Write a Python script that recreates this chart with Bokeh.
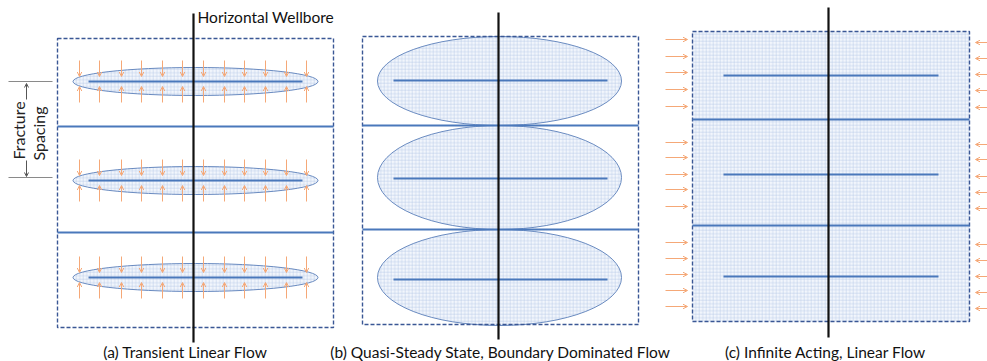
import math
from bokeh.plotting import figure
from bokeh.models import Range1d, Arrow, OpenHead, ColumnDataSource, Label
from bokeh.core.properties import value
from bokeh.embed import file_html
from bokeh.resources import INLINE

# ---- diagram data (image-pixel coordinates, y downward) ----
captions = ["(a) Transient Linear Flow",
            "(b) Quasi-Steady State, Boundary Dominated Flow",
            "(c) Infinite Acting, Linear Flow"]
caption_x = [185, 500, 825]
caption_y = [351, 351, 351]

wellbore_x = [193, 498, 828]
wellbore_top = [13, 12, 7]
wellbore_bottom = [342, 339, 337]

box_left = [57, 362, 692]
box_right = [333, 638, 969]
box_top = [38, 36, 31]
box_bottom = [327, 324, 321]

frac_y_a = [81, 180, 277]
frac_y_b = [80, 178, 279]
frac_y_c = [75, 174, 276]
frac_x0 = [88, 393, 723]
frac_x1 = [302, 607, 938]

bound_y_a = [126, 232]
bound_y_b = [125, 229]
bound_y_c = [119, 225]

ell_a_x = 195
ell_a_w = 245
ell_a_h = 28
ell_b_x = 499
ell_b_y = [80.5, 177, 277]
ell_b_w = 244
ell_b_h = [89, 104, 96]

arrow_x_a = [79, 99, 121, 141, 162, 182, 203, 224, 244, 265, 286, 306]
left_arrow_y_c = [39, 56, 72, 89, 106, 142, 157, 174, 189, 206, 242, 258, 274, 290, 306]
right_arrow_y_c = [42, 58, 74, 90, 107, 144, 159, 176, 192, 208, 244, 260, 276, 292, 308]

FONT = "Lato"
BLUE = "#4a78bb"
DASH = "#3a5795"
ORANGE = "#f5a877"
FILL = "#f2f6fc"
HATCH = "#c0d0ea"

p = figure(width=987, height=361, x_range=Range1d(0, 987), y_range=Range1d(361, 0),
           output_backend="svg", toolbar_location=None, min_border=0)
p.axis.visible = False
p.grid.visible = False
p.outline_line_color = None
p.background_fill_color = "white"

# panel (c) filled region
p.quad(left=[box_left[2]], right=[box_right[2]], top=[box_top[2]], bottom=[box_bottom[2]],
       fill_color=FILL, line_color=None, hatch_pattern="cross", hatch_color=HATCH,
       hatch_scale=3.5, hatch_weight=0.6)

# panel (b) ellipses
p.ellipse(x=[ell_b_x] * 3, y=ell_b_y, width=ell_b_w, height=ell_b_h,
          fill_color=FILL, line_color="#6a8bc0", line_width=1,
          hatch_pattern="cross", hatch_color=HATCH, hatch_scale=3.5, hatch_weight=0.6)

# panel (a) ellipses
p.ellipse(x=[ell_a_x] * 3, y=frac_y_a, width=ell_a_w, height=ell_a_h,
          fill_color=FILL, line_color="#6a8bc0", line_width=1,
          hatch_pattern="cross", hatch_color=HATCH, hatch_scale=3.5, hatch_weight=0.6)

# dashed boxes
p.quad(left=box_left, right=box_right, top=box_top, bottom=box_bottom,
       fill_color=None, line_color=DASH, line_width=1.4, line_dash="4 2")

# boundary lines
bxs, bys = [], []
for i, ys in enumerate([bound_y_a, bound_y_b, bound_y_c]):
    for y in ys:
        bxs.append([box_left[i], box_right[i]])
        bys.append([y, y])
p.multi_line(xs=bxs, ys=bys, line_color=BLUE, line_width=1.8)

# fractures
fxs, fys = [], []
for i, ys in enumerate([frac_y_a, frac_y_b, frac_y_c]):
    for y in ys:
        fxs.append([frac_x0[i], frac_x1[i]])
        fys.append([y, y])
p.multi_line(xs=fxs, ys=fys, line_color=BLUE, line_width=2.2)

# orange arrows panel (a)
x0, y0, x1, y1 = [], [], [], []
for fy in frac_y_a:
    for ax in arrow_x_a:
        x0.append(ax); y0.append(fy - 21); x1.append(ax); y1.append(fy - 5)
        x0.append(ax); y0.append(fy + 21); x1.append(ax); y1.append(fy + 5)
# panel (c)
for ay in left_arrow_y_c:
    x0.append(665); y0.append(ay); x1.append(687); y1.append(ay)
for ay in right_arrow_y_c:
    x0.append(987); y0.append(ay); x1.append(975); y1.append(ay)
src = ColumnDataSource(dict(x0=x0, y0=y0, x1=x1, y1=y1))
p.add_layout(Arrow(x_start="x0", y_start="y0", x_end="x1", y_end="y1", source=src,
                   line_color=ORANGE, line_width=1.0,
                   end=OpenHead(size=4.5, line_color=ORANGE, line_width=1.0)))

# wellbores
p.segment(x0=wellbore_x, y0=wellbore_top, x1=wellbore_x, y1=wellbore_bottom,
          line_color="#111111", line_width=2.2)

# fracture spacing annotation
p.segment(x0=[8, 8], y0=[81, 177], x1=[52, 52], y1=[81, 177], line_color="#8a8a8a", line_width=1.2)
src2 = ColumnDataSource(dict(x0=[26, 26], y0=[99, 160], x1=[26, 26], y1=[83, 176]))
p.add_layout(Arrow(x_start="x0", y_start="y0", x_end="x1", y_end="y1", source=src2,
                   line_color="#555555", line_width=1,
                   end=OpenHead(size=4, line_color="#555555", line_width=1)))
p.add_layout(Label(x=18, y=130, text="Fracture", angle=math.pi / 2, text_align="center",
                   text_baseline="middle", text_font=FONT, text_font_size="16px", text_color="#222222"))
p.add_layout(Label(x=38, y=133, text="Spacing", angle=math.pi / 2, text_align="center",
                   text_baseline="middle", text_font=FONT, text_font_size="16px", text_color="#222222"))

# texts
p.text(x=[197], y=[16], text=["Horizontal Wellbore"], text_align="left", text_baseline="middle",
       text_font=value(FONT), text_font_size="15.5px", text_color="#111111")
p.text(x=caption_x, y=caption_y, text=captions, text_align="center", text_baseline="middle",
       text_font=value(FONT), text_font_size="15.5px", text_color="#111111")

open("out.html", "w").write(file_html(p, INLINE))
